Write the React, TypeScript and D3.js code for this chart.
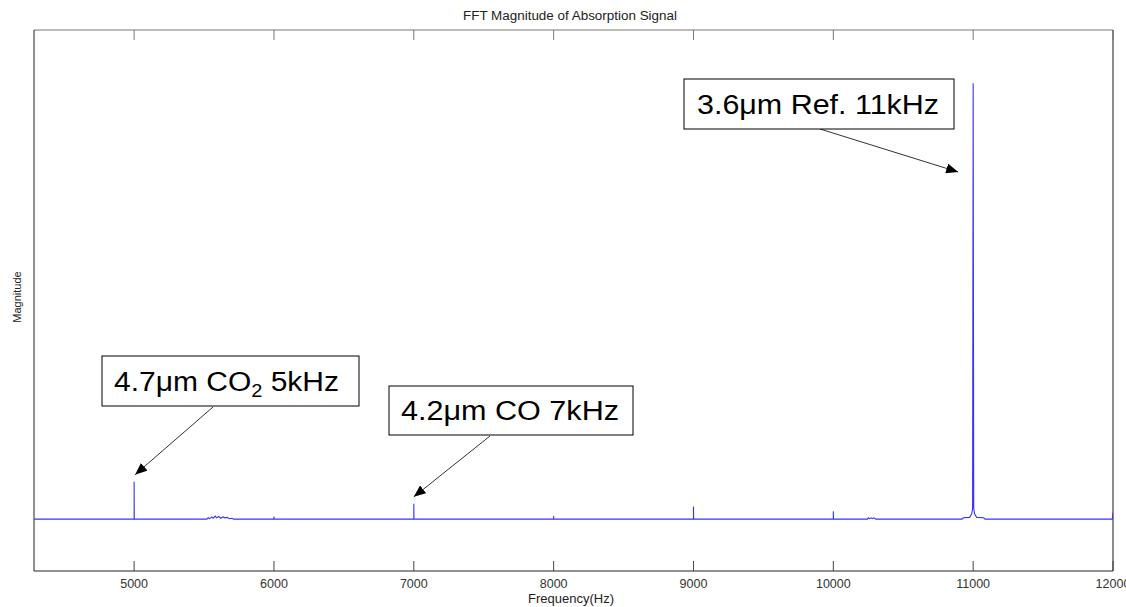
import * as d3 from 'd3'

// spectrum samples (Hz, normalised magnitude)
const freqHz = [
  4284, 5000, 5000, 5001,
  5520, 5530, 5540, 5555, 5565, 5580, 5590, 5605, 5620, 5635, 5650, 5665, 5680, 5700, 5710,
  6000, 6000, 6001,
  7000, 7000, 7001,
  8000, 8000, 8001,
  9000, 9000, 9001,
  10000, 10000, 10001,
  10245, 10250, 10260, 10270, 10280, 10290, 10300, 10305,
  10920, 10930, 10975, 10990, 10996, 11000, 11004, 11010, 11025, 11075, 11085,
  11995, 12000,
]
const magnitude = [
  0, 0, 0.086, 0,
  0, 0.003, 0.001, 0.005, 0.002, 0.007, 0.003, 0.006, 0.002, 0.005, 0.003, 0.004, 0.001, 0.002, 0,
  0, 0.006, 0,
  0, 0.035, 0,
  0, 0.007, 0,
  0, 0.029, 0,
  0, 0.018, 0,
  0, 0.003, 0.001, 0.003, 0.001, 0.003, 0.001, 0,
  0, 0.003, 0.004, 0.012, 0.025, 1.0, 0.025, 0.012, 0.004, 0.003, 0,
  0, 0.015,
]

const xTicks = [5000, 6000, 7000, 8000, 9000, 10000, 11000, 12000]

// annotation boxes: label pieces, peak frequency pointed at
const noteMain = ['4.7μm CO', '4.2μm CO 7kHz', '3.6μm Ref. 11kHz']
const noteFreq = [5000, 7000, 11000]

const W = 1126
const H = 607
const left = 34
const right = 1113
const top = 30
const bottom = 571
const font = "'Liberation Sans', Arial, sans-serif"

export default function App() {
  const x = d3.scaleLinear().domain([4284, 12000]).range([left, right])
  const y = d3.scaleLinear().domain([-0.119, 1.122]).range([bottom, top])

  const pts: [number, number][] = freqHz.map((f, i) => [f, magnitude[i]])
  const line = d3.line<[number, number]>()
    .x(d => x(d[0]))
    .y(d => y(d[1]))

  // box geometry tuned by eye
  const boxes = [
    { x0: 102, y0: 356, x1: 359, y1: 406, tx: 114, ty: 391, tl: 225, ax: 213, ay: 407 },
    { x0: 389, y0: 386, x1: 633, y1: 435, tx: 401, ty: 420, tl: 218, ax: 490, ay: 436 },
    { x0: 684, y0: 79, x1: 954, y1: 129, tx: 697, ty: 114, tl: 242, ax: 820, ay: 129 },
  ]
  // arrow tips sit just above/left of each peak
  const tips = [
    [x(noteFreq[0]) + 1, y(0.086) - 7],
    [x(noteFreq[1]) + 0, y(0.035) - 7],
    [x(noteFreq[2]) - 15, 172],
  ]

  return (
    <svg width={W} height={H} style={{ position: 'absolute', left: 0, top: 0, background: '#fff' }}
      fontFamily={font}>
      <defs>
        <marker id="arr" viewBox="0 0 12 10" refX="12" refY="5" markerWidth="12" markerHeight="10"
          markerUnits="userSpaceOnUse" orient="auto">
          <path d="M0,0 L12,5 L0,10 Z" fill="#000" />
        </marker>
        <clipPath id="plot">
          <rect x={left} y={top} width={right - left} height={bottom - top} />
        </clipPath>
      </defs>

      <text x={463} y={20} fontSize={12} fill="#222" textLength={214} lengthAdjust="spacingAndGlyphs">
        FFT Magnitude of Absorption Signal
      </text>

      {/* axes box */}
      <line x1={left} x2={right} y1={top} y2={top} stroke="#777" />
      <line x1={right} x2={right} y1={top} y2={bottom} stroke="#666" strokeWidth={1.5} />
      <line x1={left} x2={left} y1={top} y2={bottom} stroke="#222" />
      <line x1={left} x2={right} y1={bottom} y2={bottom} stroke="#222" />

      {xTicks.map(t => (
        <g key={t}>
          <line x1={x(t)} x2={x(t)} y1={bottom} y2={bottom - 10} stroke="#444" />
          <line x1={x(t)} x2={x(t)} y1={top} y2={top + 10} stroke="#777" />
          <text x={x(t)} y={588} fontSize={12.5} fill="#333" textAnchor="middle">{t}</text>
        </g>
      ))}

      <path d={line(pts) ?? ''} fill="none" stroke="#3434ff" strokeWidth={1.1} clipPath="url(#plot)" />

      <text transform="translate(21,297) rotate(-90)" fontSize={11} fill="#222" textAnchor="middle">
        Magnitude
      </text>
      <text x={528} y={603} fontSize={12} fill="#222" textLength={86} lengthAdjust="spacingAndGlyphs">
        Frequency(Hz)
      </text>

      {boxes.map((b, i) => (
        <g key={i}>
          <line x1={b.ax} y1={b.ay} x2={tips[i][0]} y2={tips[i][1]} stroke="#333" strokeWidth={1}
            markerEnd="url(#arr)" />
          <rect x={b.x0} y={b.y0} width={b.x1 - b.x0} height={b.y1 - b.y0} fill="#fff" stroke="#000" />
          <text x={b.tx} y={b.ty} fontSize={27} fill="#000" textLength={b.tl} lengthAdjust="spacingAndGlyphs">
            {i === 0 ? (
              <>
                {noteMain[0]}
                <tspan fontSize={18} dy={6}>2</tspan>
                <tspan dy={-6}> 5kHz</tspan>
              </>
            ) : noteMain[i]}
          </text>
        </g>
      ))}
    </svg>
  )
}
